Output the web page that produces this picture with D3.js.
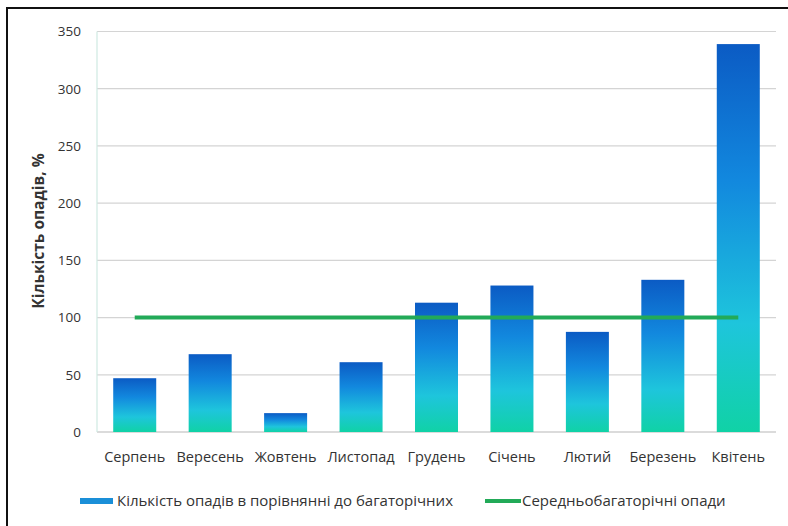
<!DOCTYPE html>
<html lang="uk">
<head>
  <meta charset="utf-8" />
  <title>Кількість опадів</title>
  <script src="https://cdn.jsdelivr.net/npm/d3@7/dist/d3.min.js"></script>
  <style>
    body { margin: 0; background: white; }
    text { font-family: "Open Sans", "Noto Sans", sans-serif; fill: #333; }
  </style>
</head>
<body>
<script>

// data
var months = ["Серпень", "Вересень", "Жовтень", "Листопад", "Грудень",
              "Січень", "Лютий", "Березень", "Квітень"];
var precip = [47, 68, 16.5, 61, 113, 128, 87.5, 133, 339];
var norm = [100, 100, 100, 100, 100, 100, 100, 100, 100];
var yTicks = [0, 50, 100, 150, 200, 250, 300, 350];
var barName = "Кількість опадів в порівнянні до багаторічних";
var lineName = "Середньобагаторічні опади";
var yTitle = "Кількість опадів, %";

var w = 788, h = 526;
var pad = {left: 97, right: 12, top: 31.5, bottom: 94};

var svg = d3.select("body").append("svg")
            .attr("width", w)
            .attr("height", h);

// bar gradient, dark blue at top to green-turquoise at bottom
var grad = svg.append("defs").append("linearGradient")
              .attr("id", "barGrad")
              .attr("x1", 0).attr("y1", 0).attr("x2", 0).attr("y2", 1);
grad.append("stop").attr("offset", "0%").attr("stop-color", "#0b5bc4");
grad.append("stop").attr("offset", "35%").attr("stop-color", "#1288de");
grad.append("stop").attr("offset", "72%").attr("stop-color", "#1ec5dc");
grad.append("stop").attr("offset", "100%").attr("stop-color", "#10d2a6");

// frame
svg.append("rect")
   .attr("x", 7).attr("y", 8)
   .attr("width", w + 10).attr("height", h + 10)
   .attr("fill", "none")
   .attr("stroke", "#111")
   .attr("stroke-width", 2);

var xScale = d3.scaleBand()
               .domain(months)
               .range([pad.left, w - pad.right])
               .paddingInner(0.43)
               .paddingOuter(0.215);
var yScale = d3.scaleLinear()
               .domain([0, 350])
               .range([h - pad.bottom, pad.top]);

// grid lines
svg.append("g")
   .selectAll("line")
   .data(yTicks)
   .enter()
   .append("line")
   .attr("x1", pad.left)
   .attr("x2", w - pad.right)
   .attr("y1", function(d) { return yScale(d); })
   .attr("y2", function(d) { return yScale(d); })
   .attr("stroke", function(d) { return d === 0 ? "#b8b8b8" : "#d4d4d4"; })
   .attr("stroke-width", 1.2);

// left axis line (light)
svg.append("line")
   .attr("x1", pad.left).attr("x2", pad.left)
   .attr("y1", yScale(350)).attr("y2", yScale(0))
   .attr("stroke", "#cfe9e2")
   .attr("stroke-width", 1.2);

var yAxis = d3.axisLeft(yScale).tickValues(yTicks).tickSize(0).tickPadding(16);
var gy = svg.append("g")
            .attr("transform", "translate(" + pad.left + ",0)")
            .call(yAxis);
gy.select(".domain").remove();
gy.selectAll("text").style("font-size", "13.5px").attr("fill", "#333");

var xAxis = d3.axisBottom(xScale).tickSize(0).tickPadding(20);
var gx = svg.append("g")
            .attr("transform", "translate(0," + yScale(0) + ")")
            .call(xAxis);
gx.select(".domain").remove();
gx.selectAll("text").style("font-size", "14.5px").attr("fill", "#333");

// bars
svg.append("g")
   .selectAll("rect")
   .data(precip)
   .enter()
   .append("rect")
   .attr("x", function(d, i) { return xScale(months[i]); })
   .attr("y", function(d) { return yScale(d); })
   .attr("width", xScale.bandwidth())
   .attr("height", function(d) { return yScale(0) - yScale(d); })
   .attr("fill", "url(#barGrad)");

// norm line
var line = d3.line()
             .x(function(d, i) { return xScale(months[i]) + xScale.bandwidth() / 2; })
             .y(function(d) { return yScale(d); });
svg.append("path")
   .datum(norm)
   .attr("d", line)
   .attr("fill", "none")
   .attr("stroke", "#22aa58")
   .attr("stroke-width", 4);

// y title
svg.append("text")
   .attr("transform", "translate(44," + 231 + ") rotate(-90)")
   .attr("text-anchor", "middle")
   .style("font-size", "15.5px")
   .style("font-weight", "bold")
   .attr("fill", "#222")
   .text(yTitle);

// legend
var ly = 501;
svg.append("rect")
   .attr("x", 80).attr("y", ly - 3)
   .attr("width", 33).attr("height", 6)
   .attr("fill", "#1a8fd8");
svg.append("text")
   .attr("x", 117).attr("y", ly + 5)
   .style("font-size", "15px")
   .text(barName);
svg.append("line")
   .attr("x1", 485).attr("x2", 521)
   .attr("y1", ly).attr("y2", ly)
   .attr("stroke", "#22aa58")
   .attr("stroke-width", 4);
svg.append("text")
   .attr("x", 522).attr("y", ly + 5)
   .style("font-size", "15px")
   .text(lineName);

</script>
</body>
</html>
